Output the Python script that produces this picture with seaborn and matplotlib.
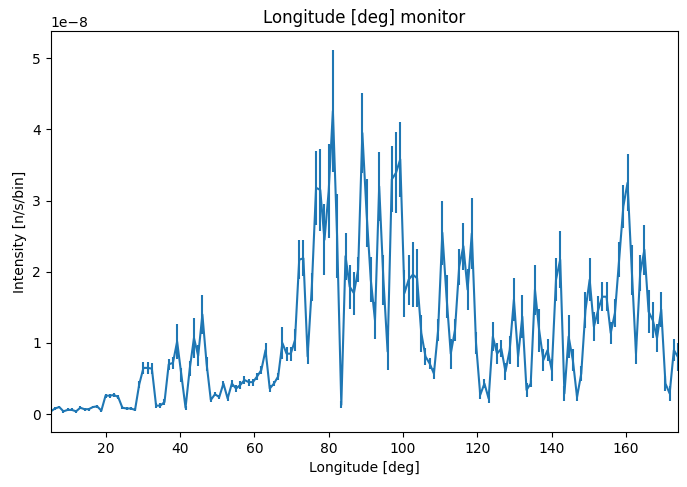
import numpy as np
import pandas as pd
import matplotlib
matplotlib.use("Agg")
import matplotlib.pyplot as plt
import seaborn as sns

# intensity per bin (units of 1e-8 n/s/bin)
intensity = [
    0.04, 0.08, 0.10, 0.04, 0.06, 0.06, 0.04, 0.09, 0.07, 0.07,
    0.10, 0.11, 0.05, 0.26, 0.26, 0.27, 0.24, 0.09, 0.08, 0.08,
    0.06, 0.42, 0.65, 0.65, 0.64, 0.12, 0.12, 0.17, 0.70, 0.72,
    1.02, 0.55, 0.09, 0.64, 1.07, 0.82, 1.40,
    0.71, 0.20, 0.28, 0.24, 0.43, 0.22, 0.43, 0.36, 0.41, 0.48,
    0.45, 0.45, 0.53, 0.62, 0.90, 0.36, 0.43, 0.53, 1.00, 0.85,
    0.85, 1.04, 2.17, 2.19,
    0.81, 1.79, 3.18, 3.15, 2.45, 3.13, 4.26, 2.50, 0.13, 2.22,
    1.79, 1.70, 2.03, 3.95, 2.83, 1.89, 1.32, 3.20, 1.89, 0.88,
    3.30, 3.39, 3.58, 1.70,
    1.89, 1.96, 1.91, 1.14, 0.81, 0.71, 0.57, 1.18, 2.55, 1.65,
    0.85, 1.18, 2.07, 2.36, 1.75, 2.54, 1.00, 0.27, 0.43, 0.22,
    1.09, 0.85, 0.92, 0.60,
    0.90, 1.61, 0.81, 1.37, 0.34, 0.43, 1.75, 1.18, 0.76, 0.90,
    0.62, 1.89, 2.17, 0.29, 1.09, 0.76, 0.24, 0.57, 1.46, 1.89,
    1.23, 1.46, 1.65,
    1.65, 1.14, 1.42, 2.17, 2.92, 3.25, 2.03, 0.85, 1.98, 2.31,
    1.44, 1.32, 1.07, 1.47, 0.43, 0.29, 0.90, 0.80,
]

error = [
    0.02, 0.02, 0.02, 0.02, 0.02, 0.02, 0.02, 0.02, 0.02, 0.02,
    0.02, 0.02, 0.02, 0.03, 0.03, 0.03, 0.03, 0.02, 0.02, 0.02,
    0.02, 0.05, 0.08, 0.08, 0.08, 0.03, 0.03, 0.04, 0.08, 0.08,
    0.25, 0.10, 0.03, 0.10, 0.28, 0.15, 0.28,
    0.10, 0.03, 0.03, 0.03, 0.04, 0.04, 0.05, 0.05, 0.05, 0.05,
    0.05, 0.05, 0.05, 0.06, 0.10, 0.05, 0.04, 0.05, 0.22, 0.10,
    0.10, 0.15, 0.27, 0.25,
    0.10, 0.20, 0.52, 0.57, 0.50, 0.66, 0.86, 0.59, 0.05, 0.33,
    0.31, 0.30, 0.18, 0.56, 0.48, 0.32, 0.26, 0.48, 0.35, 0.26,
    0.46, 0.57, 0.53, 0.33,
    0.35, 0.46, 0.41, 0.26, 0.12, 0.08, 0.08, 0.15, 0.45, 0.30,
    0.21, 0.15, 0.25, 0.33, 0.29, 0.50, 0.15, 0.06, 0.06, 0.06,
    0.20, 0.15, 0.12, 0.12,
    0.20, 0.30, 0.15, 0.30, 0.10, 0.05, 0.35, 0.30, 0.15, 0.15,
    0.15, 0.30, 0.40, 0.10, 0.30, 0.15, 0.05, 0.10, 0.25, 0.30,
    0.20, 0.20, 0.20,
    0.20, 0.15, 0.20, 0.25, 0.30, 0.40, 0.35, 0.15, 0.25, 0.35,
    0.30, 0.25, 0.20, 0.25, 0.10, 0.10, 0.15, 0.20,
]

lon_min, lon_max = 5.2, 174.0

df = pd.DataFrame({
    "lon": np.linspace(lon_min, lon_max, len(intensity)),
    "I": np.array(intensity) * 1e-8,
    "dI": np.array(error) * 1e-8,
})

fig, ax = plt.subplots(figsize=(6.87, 4.87), dpi=100)
sns.lineplot(data=df, x="lon", y="I", color="C0", linewidth=1.5, ax=ax)
ax.errorbar(df["lon"], df["I"], yerr=df["dI"], fmt="none", ecolor="C0", elinewidth=1.5)

ax.set_xlim(lon_min, lon_max)
ax.set_ylim(-0.25e-8, 5.38e-8)
ax.set_title("Longitude [deg] monitor")
ax.set_xlabel("Longitude [deg]")
ax.set_ylabel("Intensity [n/s/bin]")
fig.subplots_adjust(left=0.074, right=0.987, top=0.936, bottom=0.113)
fig.savefig("out.png")
